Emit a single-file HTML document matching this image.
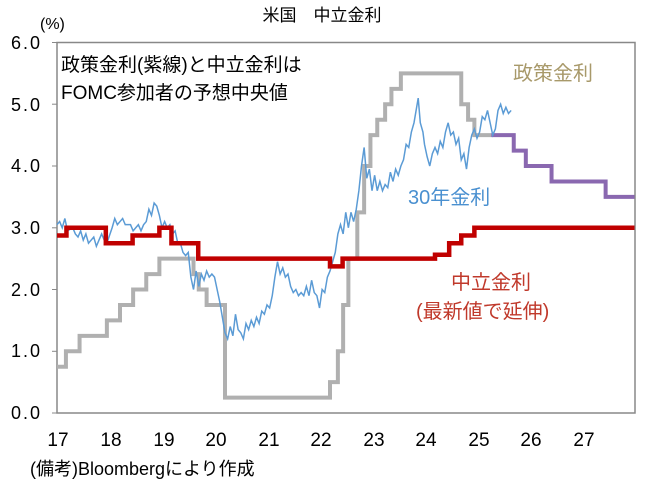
<!DOCTYPE html>
<html><head><meta charset="utf-8"><style>
body{margin:0;background:#fff;width:648px;height:488px;overflow:hidden}
text{font-family:"Liberation Sans","Noto Sans CJK JP",sans-serif}
</style></head><body>
<svg width="648" height="488" viewBox="0 0 648 488" xmlns="http://www.w3.org/2000/svg">
<rect width="648" height="488" fill="#fff"/>
<g stroke="#888" stroke-width="1">
<line x1="52" y1="42.5" x2="57" y2="42.5"/><line x1="52" y1="104.2" x2="57" y2="104.2"/><line x1="52" y1="166" x2="57" y2="166"/>
<line x1="52" y1="227.8" x2="57" y2="227.8"/><line x1="52" y1="289.5" x2="57" y2="289.5"/><line x1="52" y1="351.3" x2="57" y2="351.3"/><line x1="52" y1="413" x2="57" y2="413"/>
</g>
<rect x="57" y="42.5" width="578" height="370.5" fill="none" stroke="#888" stroke-width="1.5"/>
<g fill="#000" font-size="18" text-anchor="end" letter-spacing="2">
<text x="42" y="49">6.0</text><text x="42" y="111">5.0</text><text x="42" y="172">4.0</text>
<text x="42" y="234">3.0</text><text x="42" y="296">2.0</text><text x="42" y="357">1.0</text><text x="42" y="419">0.0</text>
</g>
<g fill="#000" font-size="19" text-anchor="middle">
<text x="58" y="446">17</text><text x="111" y="446">18</text><text x="164" y="446">19</text><text x="216" y="446">20</text>
<text x="269" y="446">21</text><text x="321" y="446">22</text><text x="374" y="446">23</text><text x="426" y="446">24</text>
<text x="479" y="446">25</text><text x="531" y="446">26</text><text x="584" y="446">27</text>
</g>
<text x="322" y="21" font-size="17" text-anchor="middle">米国　中立金利</text>
<text x="40" y="29" font-size="16">(%)</text>
<text x="61" y="71" font-size="19">政策金利(紫線)と中立金利は</text>
<text x="61" y="99" font-size="19">FOMC参加者の予想中央値</text>
<text x="513" y="80" font-size="20" fill="#a8996a">政策金利</text>
<text x="408" y="204" font-size="20" fill="#4a90d0">30年金利</text>
<text x="451" y="289" font-size="20" fill="#c0392b">中立金利</text>
<text x="416" y="318" font-size="20" fill="#c0392b">(最新値で延伸)</text>
<text x="30" y="475" font-size="18">(備考)Bloombergにより作成</text>
<g transform="translate(57,413) scale(52.5,-61.75)" fill="none" stroke-linejoin="miter">
<polyline vector-effect="non-scaling-stroke" stroke="#b0b0b0" stroke-width="4" points="0,0.75 0.17,0.75 0.17,1 0.43,1 0.43,1.25 0.95,1.25 0.95,1.5 1.2,1.5 1.2,1.75 1.45,1.75 1.45,2 1.7,2 1.7,2.25 1.95,2.25 1.95,2.5 2.6,2.5 2.6,2.25 2.7,2.25 2.7,2 2.85,2 2.85,1.75 3.2,1.75 3.2,0.25 5.2,0.25 5.2,0.5 5.35,0.5 5.35,1 5.45,1 5.45,1.75 5.55,1.75 5.55,2.5 5.72,2.5 5.72,3.25 5.85,3.25 5.85,4 5.97,4 5.97,4.5 6.1,4.5 6.1,4.75 6.25,4.75 6.25,5 6.37,5 6.37,5.25 6.55,5.25 6.55,5.5 7.7,5.5 7.7,5 7.83,5 7.83,4.75 7.95,4.75 7.95,4.5 8.27,4.5"/>
<polyline vector-effect="non-scaling-stroke" stroke="#8a68b0" stroke-width="4" points="8.27,4.5 8.7,4.5 8.7,4.25 8.93,4.25 8.93,4 9.42,4 9.42,3.75 10.45,3.75 10.45,3.5 11,3.5"/>
<polyline vector-effect="non-scaling-stroke" stroke="#5b9bd5" stroke-width="1.5" points="0,3.05 0.05,3.1 0.1,3 0.15,3.15 0.2,2.95 0.3,3 0.35,2.9 0.4,2.85 0.45,2.95 0.5,2.8 0.55,2.9 0.6,2.75 0.7,2.85 0.75,2.7 0.8,2.8 0.85,2.9 0.9,2.8 0.95,2.75 1.05,3 1.1,3.15 1.15,3.05 1.2,3.1 1.25,3.15 1.3,3.05 1.4,3.05 1.45,2.95 1.5,3 1.55,3.05 1.6,2.95 1.65,3.05 1.7,3.1 1.75,3.3 1.8,3.2 1.85,3.4 1.9,3.35 1.95,3.2 2,3 2.05,3.1 2.1,3 2.15,3.05 2.2,2.9 2.25,2.95 2.3,2.75 2.35,2.75 2.4,2.6 2.45,2.55 2.5,2.6 2.55,2.2 2.6,2 2.65,2.3 2.7,2.05 2.75,2.25 2.8,2.15 2.85,2.3 2.9,2.2 2.95,2.25 3,2.2 3.05,2 3.1,1.8 3.15,1.55 3.2,1.3 3.25,1.2 3.3,1.4 3.35,1.25 3.4,1.6 3.45,1.35 3.5,1.3 3.55,1.2 3.6,1.45 3.65,1.35 3.7,1.5 3.75,1.4 3.8,1.55 3.85,1.45 3.9,1.65 3.95,1.6 4,1.75 4.05,1.7 4.1,1.9 4.15,2.2 4.2,2.45 4.25,2.25 4.3,2.35 4.35,2.2 4.4,2.25 4.45,2.05 4.5,1.95 4.55,2 4.6,1.9 4.65,1.95 4.7,1.9 4.75,2.05 4.8,1.9 4.85,2.15 4.9,1.95 4.95,1.9 5,1.7 5.05,2 5.1,1.95 5.15,2.2 5.2,2.3 5.25,2.45 5.3,2.6 5.35,2.9 5.4,3.05 5.45,2.9 5.5,3.25 5.55,3 5.6,3.25 5.65,3.1 5.7,3.3 5.75,3.6 5.8,4.0 5.85,4.3 5.9,3.8 5.95,3.95 6,3.6 6.05,3.85 6.1,3.6 6.15,3.75 6.2,3.6 6.25,3.7 6.3,3.65 6.35,3.9 6.4,3.75 6.45,3.95 6.5,3.85 6.55,4 6.6,4.1 6.65,4.35 6.7,4.3 6.75,4.55 6.8,4.7 6.85,4.95 6.88,5.1 6.92,4.7 6.97,4.55 7,4.35 7.05,4.15 7.1,4.0 7.15,4.2 7.2,4.3 7.25,4.2 7.3,4.4 7.35,4.3 7.4,4.55 7.45,4.7 7.5,4.5 7.55,4.55 7.6,4.35 7.65,4.45 7.7,4.1 7.75,4.2 7.8,3.95 7.85,4.3 7.9,4.5 7.95,4.6 8,4.45 8.05,4.55 8.1,4.8 8.15,4.75 8.2,4.9 8.25,4.7 8.3,4.5 8.35,4.6 8.4,4.9 8.45,5 8.5,4.85 8.55,4.95 8.6,4.85 8.65,4.9"/>
<polyline vector-effect="non-scaling-stroke" stroke="#c00000" stroke-width="4.5" points="0,2.875 0.18,2.875 0.18,3 0.93,3 0.93,2.75 1.44,2.75 1.44,2.875 1.95,2.875 1.95,3 2.18,3 2.18,2.75 2.69,2.75 2.69,2.5 5.2,2.5 5.2,2.375 5.44,2.375 5.44,2.5 7.2,2.5 7.2,2.5625 7.47,2.5625 7.47,2.75 7.7,2.75 7.7,2.875 7.95,2.875 7.95,3 11,3"/>
</g>
</svg>
</body></html>
